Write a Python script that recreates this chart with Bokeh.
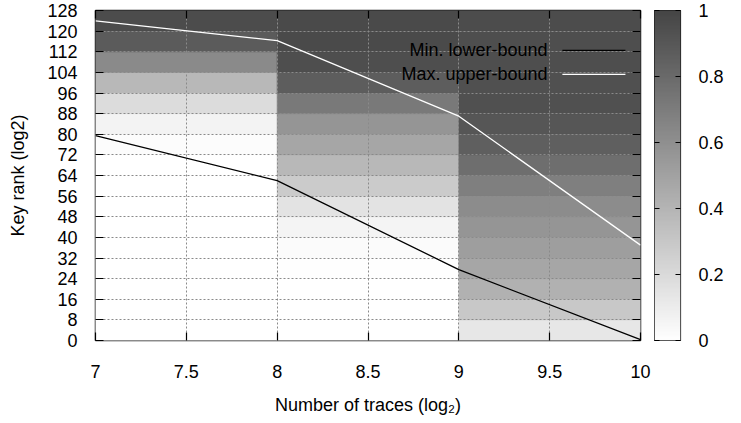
import numpy as np
from bokeh.plotting import figure
from bokeh.layouts import row
from bokeh.models import (LinearColorMapper, FixedTicker, LinearAxis,
                          ColumnDataSource, Range1d, Label, CustomJSTickFormatter)
from bokeh.embed import file_html
from bokeh.resources import INLINE

# ---------------- data ----------------
strip_x = [7.5, 8.5, 9.5]                 # centre of each log2(traces) strip
band_y = list(range(4, 128, 8))           # centre of each 8-wide key-rank band
# probability per band (bottom -> top) for each strip
strip_7 = [0, 0, 0, 0, 0, 0, 0, 0, 0, 0.016, 0.07, 0.19, 0.38, 0.63, 0.88, 0.96]
strip_8 = [0, 0, 0, 0.01, 0.02, 0.06, 0.15, 0.28, 0.38, 0.48, 0.57, 0.72, 0.87, 0.95, 0.97, 0.97]
strip_9 = [0.13, 0.30, 0.42, 0.48, 0.52, 0.57, 0.62, 0.69, 0.78, 0.86, 0.91, 0.94, 0.94, 0.95, 0.95, 0.96]

bound_x = [7, 8, 9, 10]
min_lower = [79.5, 62, 27.5, 0.3]
max_upper = [124, 116.3, 87, 37]

x_ticks = [7, 7.5, 8, 8.5, 9, 9.5, 10]
y_ticks = list(range(0, 129, 8))
cb_ticks = [0, 0.2, 0.4, 0.6, 0.8, 1]

# ---------------- styling ----------------
FONT = "Liberation Sans"
FS = "18px"
palette = ["#%02x%02x%02x" % (g, g, g) for g in
           [round(255 - (255 - 69) * i / 255) for i in range(256)]]
mapper = LinearColorMapper(palette=palette, low=0, high=1)

xs, ys, vs = [], [], []
for sx, col in zip(strip_x, [strip_7, strip_8, strip_9]):
    for by, v in zip(band_y, col):
        xs.append(sx); ys.append(by); vs.append(v)
src = ColumnDataSource(dict(x=xs, y=ys, v=vs))

p = figure(x_range=Range1d(7, 10), y_range=Range1d(0, 128),
           frame_width=545, frame_height=330,
           min_border_left=95, min_border_top=10, min_border_bottom=0,
           min_border_right=14,
           output_backend="svg", toolbar_location=None)
p.background_fill_color = "white"
p.outline_line_color = "#222222"
p.outline_line_width = 1.5

p.rect(x="x", y="y", width=1, height=8, source=src,
       fill_color={"field": "v", "transform": mapper},
       line_color={"field": "v", "transform": mapper}, line_width=0.6,
       level="image")

p.line(bound_x, min_lower, line_color="black", line_width=1.3)
p.line(bound_x, max_upper, line_color="white", line_width=1.3)

# grid
p.xgrid.ticker = FixedTicker(ticks=x_ticks)
p.ygrid.ticker = FixedTicker(ticks=y_ticks)
for g in (p.xgrid, p.ygrid):
    g.grid_line_color = "#8a8a8a"
    g.grid_line_dash = "2 2"
    g.grid_line_width = 1

# axes
def style_axis(ax, ticks, tick_len=8):
    ax.ticker = FixedTicker(ticks=ticks)
    ax.major_tick_in = tick_len
    ax.major_tick_out = 0
    ax.major_tick_line_color = "black"
    ax.major_tick_line_width = 1.2
    ax.minor_tick_line_color = None
    ax.axis_line_color = None
    ax.major_label_text_font = FONT
    ax.major_label_text_font_size = FS
    ax.major_label_text_color = "black"

style_axis(p.xaxis[0], x_ticks)
style_axis(p.yaxis[0], y_ticks)
p.xaxis[0].major_label_overrides = {7: "7", 8: "8", 9: "9", 10: "10"}
p.xaxis[0].major_label_standoff = 24
p.yaxis[0].major_label_standoff = 18
p.xaxis[0].axis_label = "Number of traces (log\u2082)"
p.yaxis[0].axis_label = "Key rank (log2)"
for ax in (p.xaxis[0], p.yaxis[0]):
    ax.axis_label_text_font = FONT
    ax.axis_label_text_font_size = FS
    ax.axis_label_text_font_style = "normal"
    ax.axis_label_text_color = "black"
p.xaxis[0].axis_label_standoff = 14
p.yaxis[0].axis_label_standoff = 16

blank = CustomJSTickFormatter(code="return ''")
top = LinearAxis(formatter=blank)
style_axis(top, x_ticks)
top.major_label_standoff = 0
p.add_layout(top, "above")
right = LinearAxis(formatter=blank)
style_axis(right, y_ticks)
right.major_label_standoff = 0
p.add_layout(right, "right")

# key (legend), gnuplot style: text right-aligned, sample to its right
key_text_x = 9.488
key_line_x0, key_line_x1 = 9.57, 9.917
key_rows = [112.5, 103.2]
key_labels = ["Min. lower-bound", "Max. upper-bound"]
key_colors = ["black", "white"]
for yk, lab, col in zip(key_rows, key_labels, key_colors):
    p.add_layout(Label(x=key_text_x, y=yk, text=lab, text_align="right",
                       text_baseline="middle", text_font=FONT,
                       text_font_size=FS, text_color="black"))
    p.segment(x0=[key_line_x0], y0=[yk], x1=[key_line_x1], y1=[yk],
              line_color=col, line_width=1.3)

# ---------------- colour box ----------------
cb = figure(x_range=Range1d(0, 1), y_range=Range1d(0, 1),
            frame_width=26, frame_height=330,
            min_border_left=0, min_border_top=10, min_border_bottom=14,
            min_border_right=0, x_axis_location=None, y_axis_location="right",
            output_backend="svg", toolbar_location=None)
cb.grid.visible = False
cb.outline_line_color = "#222222"
cb.outline_line_width = 1.2
ramp = np.linspace(0, 1, 256).reshape(256, 1)
cb.image(image=[ramp], x=0, y=0, dw=1, dh=1, color_mapper=mapper)
style_axis(cb.yaxis[0], cb_ticks, tick_len=5)
cb.yaxis[0].major_label_overrides = {0: "0", 0.2: "0.2", 0.4: "0.4",
                                     0.6: "0.6", 0.8: "0.8", 1: "1"}
cb.yaxis[0].major_label_standoff = 18
cb_left = LinearAxis(formatter=blank)
style_axis(cb_left, cb_ticks, tick_len=5)
cb_left.major_label_standoff = 0
cb.add_layout(cb_left, "left")

layout = row(p, cb)
open("out.html", "w").write(file_html(layout, INLINE))
